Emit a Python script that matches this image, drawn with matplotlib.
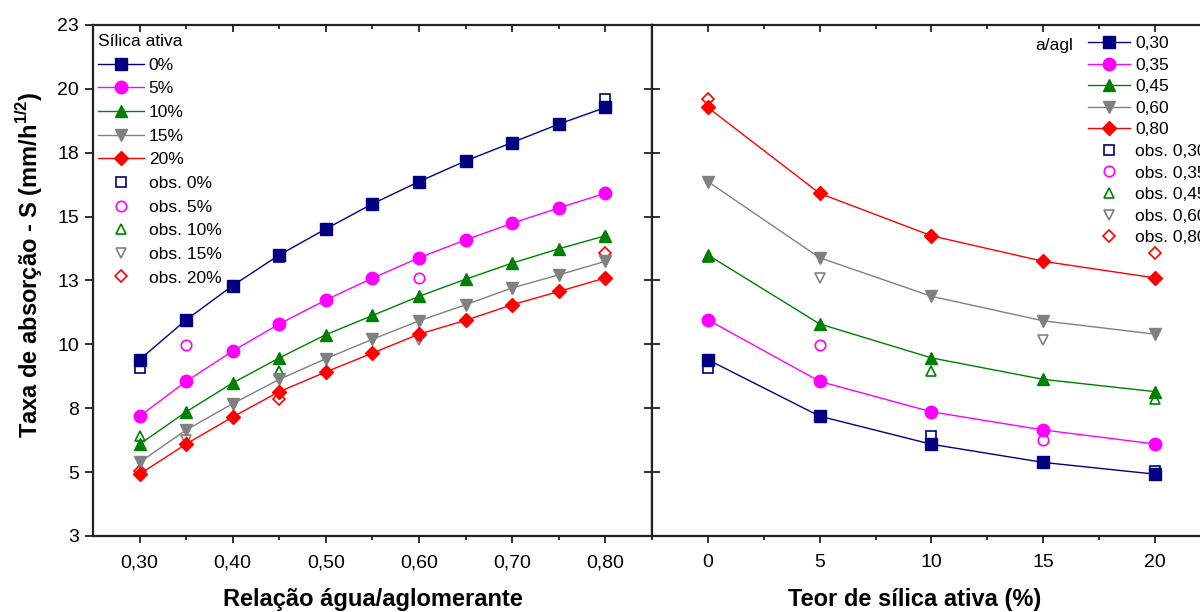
import numpy as np
import matplotlib
matplotlib.use('Agg')
import matplotlib.pyplot as plt
from matplotlib.ticker import MultipleLocator, FixedLocator

plt.rcParams['font.family'] = ['Liberation Sans', 'DejaVu Sans']
plt.rcParams['mathtext.fontset'] = 'custom'
plt.rcParams['mathtext.rm'] = 'Liberation Sans'
plt.rcParams['mathtext.bf'] = 'Liberation Sans:bold'

# Dados
razao = [0.30, 0.35, 0.40, 0.45, 0.50, 0.55, 0.60, 0.65, 0.70, 0.75, 0.80]
silica = [0, 5, 10, 15, 20]
razao_dir = [0.30, 0.35, 0.45, 0.60, 0.80]

S_0 = [9.40, 10.96, 12.30, 13.50, 14.52, 15.50, 16.37, 17.18, 17.90, 18.62, 19.27]
S_5 = [7.19, 8.55, 9.74, 10.80, 11.74, 12.59, 13.39, 14.09, 14.74, 15.34, 15.91]
S_10 = [6.09, 7.36, 8.49, 9.47, 10.38, 11.13, 11.88, 12.55, 13.18, 13.74, 14.25]
S_15 = [5.38, 6.65, 7.68, 8.63, 9.44, 10.20, 10.92, 11.55, 12.21, 12.72, 13.25]
S_20 = [4.92, 6.10, 7.16, 8.15, 8.92, 9.66, 10.40, 10.94, 11.55, 12.07, 12.60]

obs_x_0 = [0.30, 0.45, 0.80]
obs_y_0 = [9.07, 13.40, 19.62]
obs_x_5 = [0.35, 0.60]
obs_y_5 = [9.99, 12.60]
obs_x_10 = [0.30, 0.45, 0.80]
obs_y_10 = [6.42, 8.95, 14.26]
obs_x_15 = [0.35, 0.60]
obs_y_15 = [6.25, 10.17]
obs_x_20 = [0.30, 0.45, 0.80]
obs_y_20 = [5.06, 7.86, 13.58]

rotulos_sil = ['0%', '5%', '10%', '15%', '20%']
rotulos_agl = ['0,30', '0,35', '0,45', '0,60', '0,80']
ytick_vals = [2.5, 5, 7.5, 10, 12.5, 15, 17.5, 20, 22.5]
ytick_labels = ['3', '5', '8', '10', '13', '15', '18', '20', '23']
xtick_labels = ['0,30', '0,40', '0,50', '0,60', '0,70', '0,80']

S_all = [S_0, S_5, S_10, S_15, S_20]
obs_x = [obs_x_0, obs_x_5, obs_x_10, obs_x_15, obs_x_20]
obs_y = [obs_y_0, obs_y_5, obs_y_10, obs_y_15, obs_y_20]

cores = ['#000080', '#ff00ff', '#008000', '#808080', '#ff0000']
marcadores = ['s', 'o', '^', 'v', 'D']
tam = [8, 9, 8.5, 8.5, 7]
tam_obs = [7, 7.5, 7.5, 7.5, 6.5]

fig = plt.figure(figsize=(12, 6.12), dpi=100)
ax1 = fig.add_axes([0.0775, 0.1242, 0.4658, 0.835])
ax2 = fig.add_axes([0.5433, 0.1242, 0.4658, 0.835])

# Painel esquerdo: S x relação a/agl
lin1, obs1 = [], []
for i in range(5):
    l, = ax1.plot(razao, S_all[i], color=cores[i], lw=1, marker=marcadores[i],
                  ms=tam[i], mec=cores[i], zorder=3, label=rotulos_sil[i])
    o, = ax1.plot(obs_x[i], obs_y[i], ls='none', marker=marcadores[i], ms=tam_obs[i],
                  mfc='none', mec=cores[i], mew=1.2, zorder=2, label='obs. ' + rotulos_sil[i])
    lin1.append(l)
    obs1.append(o)

# Painel direito: S x teor de sílica
lin2, obs2 = [], []
for j, r in enumerate(razao_dir):
    k = razao.index(r)
    valores = [S_all[i][k] for i in range(5)]
    l, = ax2.plot(silica, valores, color=cores[j], lw=1, marker=marcadores[j],
                  ms=tam[j], mec=cores[j], zorder=3, label=rotulos_agl[j])
    ox, oy = [], []
    for i in range(5):
        for x, y in zip(obs_x[i], obs_y[i]):
            if abs(x - r) < 1e-9:
                ox.append(silica[i])
                oy.append(y)
    o, = ax2.plot(ox, oy, ls='none', marker=marcadores[j], ms=tam_obs[j],
                  mfc='none', mec=cores[j], mew=1.2, zorder=2, label='obs. ' + rotulos_agl[j])
    lin2.append(l)
    obs2.append(o)

for ax in (ax1, ax2):
    ax.set_ylim(2.5, 22.5)
    ax.yaxis.set_major_locator(FixedLocator(ytick_vals))
    for s in ax.spines.values():
        s.set_linewidth(1.6)
        s.set_color('#222222')

ax1.set_xlim(0.25, 0.85)
ax1.xaxis.set_major_locator(FixedLocator([0.30, 0.40, 0.50, 0.60, 0.70, 0.80]))
ax1.xaxis.set_minor_locator(FixedLocator([0.35, 0.45, 0.55, 0.65, 0.75]))
ax1.set_xticklabels(xtick_labels)
ax1.set_yticklabels(ytick_labels)
ax1.tick_params(axis='both', which='both', labelsize=14, width=1.3, color='#222222')
ax1.tick_params(axis='x', which='major', direction='out', length=5, top=True, pad=8)
ax1.tick_params(axis='x', which='minor', direction='out', length=3, top=True)
ax1.tick_params(axis='y', direction='out', length=6, right=True, pad=4)
for t in ax1.xaxis.get_ticklines(minor=False)[1::2] + ax1.xaxis.get_ticklines(minor=True)[1::2]:
    t.set_marker(3)
for t in ax1.yaxis.get_ticklines()[1::2]:
    t.set_marker(0)

ax2.set_xlim(-2.5, 22.5)
ax2.xaxis.set_major_locator(MultipleLocator(5))
ax2.xaxis.set_minor_locator(MultipleLocator(2.5))
ax2.tick_params(axis='both', which='both', labelsize=14, width=1.3, color='#222222')
ax2.tick_params(axis='x', which='major', direction='out', length=5, top=True, pad=8)
ax2.tick_params(axis='x', which='minor', direction='out', length=3, top=True)
ax2.tick_params(axis='y', direction='in', length=6, labelleft=False)
for t in ax2.xaxis.get_ticklines(minor=False)[1::2] + ax2.xaxis.get_ticklines(minor=True)[1::2]:
    t.set_marker(3)

ax1.set_xlabel('Relação água/aglomerante', fontsize=17, fontweight='bold')
ax1.xaxis.set_label_coords(0.5, -0.102)
ax2.set_xlabel('Teor de sílica ativa (%)', fontsize=17, fontweight='bold')
ax2.xaxis.set_label_coords(0.47, -0.102)
ax1.set_ylabel(r'Taxa de absorção - S (mm/h$^{\mathbf{1/2}}$)', fontsize=17, fontweight='bold')
ax1.yaxis.set_label_coords(-0.086, 0.53)

leg1 = ax1.legend(handles=lin1 + obs1, title='Sílica ativa', loc='upper left',
                  bbox_to_anchor=(0.005, 0.9875), frameon=False, fontsize=12.5,
                  title_fontsize=12.5, alignment='left', handlelength=2.6,
                  handletextpad=0.3, labelspacing=0.49, borderaxespad=0, borderpad=0.15)

leg2 = fig.legend(handles=lin2 + obs2, loc='upper left', bbox_to_anchor=(0.9038, 0.947),
                  frameon=False, fontsize=12.5, handlelength=2.4, handletextpad=0.3,
                  labelspacing=0.37, borderpad=0.2, borderaxespad=0)
fig.text(0.8625, 0.926, 'a/agl', fontsize=12.5, va='center')

fig.savefig('out.png', dpi=100)
